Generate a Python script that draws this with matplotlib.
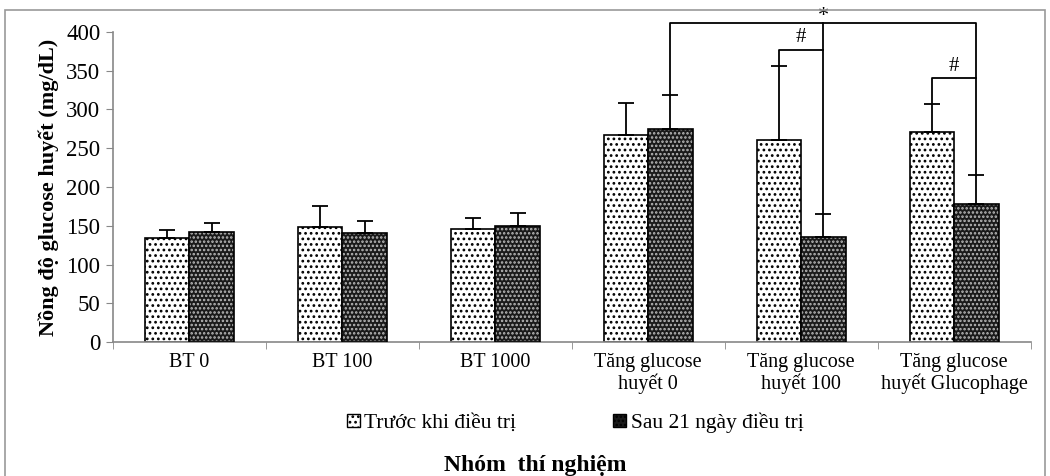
import numpy as np
import matplotlib.pyplot as plt
from matplotlib.patches import Rectangle, Patch

# dữ liệu
groups = ['BT 0', 'BT 100', 'BT 1000', 'Tăng glucose\nhuyết 0',
          'Tăng glucose\nhuyết 100', 'Tăng glucose\nhuyết Glucophage']
before = [134, 148, 146, 267, 261, 271]
before_sd = [10, 28, 14, 41, 95, 36]
after = [142, 141, 150, 275, 136, 178]
after_sd = [12, 15, 16, 44, 29, 38]
yticks = [0, 50, 100, 150, 200, 250, 300, 350, 400]

plt.rcParams['font.family'] = ['Liberation Serif', 'DejaVu Serif']
plt.rcParams['hatch.linewidth'] = 1.2

fig = plt.figure(figsize=(10.5, 4.76), dpi=100)
ax = fig.add_axes([0.1076, 0.2815, 0.874, 0.6513])

x = np.arange(len(groups))
w = 0.29
gray = '#888888'

ax.bar(x - w / 2, before, w, color='white', edgecolor='black', hatch='...',
       linewidth=1.2, zorder=2)
# cột sau: nền đen, chấm trắng, viền đen
ax.bar(x + w / 2, after, w, color='#1a1a1a', edgecolor='#bbbbbb', hatch='....',
       linewidth=0, zorder=2)
ax.bar(x + w / 2, after, w, fill=False, edgecolor='black', linewidth=1.2, zorder=3)

ax.errorbar(x - w / 2, before, yerr=[np.zeros(6), before_sd], fmt='none',
            ecolor='black', elinewidth=1.3, capsize=6, capthick=1.3, zorder=4)
ax.errorbar(x + w / 2, after, yerr=[np.zeros(6), after_sd], fmt='none',
            ecolor='black', elinewidth=1.3, capsize=6, capthick=1.3, zorder=4)

# các đường so sánh
def bracket(x1, y1, x2, y2, top, label, lx):
    ax.plot([x1, x1, x2, x2], [y1, top, top, y2], color='black', lw=1.3,
            clip_on=False, zorder=5)
    ax.text(lx, top + 3, label, ha='center', va='bottom', fontsize=15,
            clip_on=False)

bracket(x[3] + w / 2, after[3] + after_sd[3], x[5] + w / 2, after[5] + after_sd[5],
        411, '', 0)
ax.plot([x[4] + w / 2] * 2, [after[4] + after_sd[4], 411], color='black', lw=1.3,
        clip_on=False, zorder=5)
ax.text(x[4] + w / 2, 408, '*', ha='center', va='bottom', fontsize=16,
        clip_on=False)
bracket(x[4] - w / 2, before[4] + before_sd[4], x[4] + w / 2, 377, 377, '#',
        x[4])
bracket(x[5] - w / 2, before[5] + before_sd[5], x[5] + w / 2, 340, 340, '#',
        x[5])

ax.set_xlim(-0.5, 5.5)
ax.set_ylim(0, 400)
ax.set_yticks(yticks)
ax.set_xticks(x)
ax.set_xticklabels(groups, fontsize=14.5, linespacing=1.1)
ax.tick_params(axis='x', length=0, pad=8)
ax.set_xticks(np.arange(-0.5, 6, 1), minor=True)
ax.tick_params(axis='x', which='minor', length=5, color=gray)
ax.tick_params(axis='y', length=5, color=gray, labelsize=16.5, pad=4)
for s in ['top', 'right']:
    ax.spines[s].set_visible(False)
for s in ['left', 'bottom']:
    ax.spines[s].set_color(gray)
    ax.spines[s].set_linewidth(1.2)

ax.set_ylabel('Nồng độ glucose huyết (mg/dL)', fontsize=16, fontweight='bold',
              labelpad=5)
fig.text(0.51, 0.022, 'Nhóm  thí nghiệm', ha='center', va='center',
         fontsize=17, fontweight='bold')

h1 = Patch(facecolor='white', edgecolor='black', hatch='...')
h2 = Patch(facecolor='#1a1a1a', edgecolor='black', hatch='....')
fig.legend([h1, h2], ['Trước khi điều trị', 'Sau 21 ngày điều trị'],
           loc='center', bbox_to_anchor=(0.548, 0.112), ncol=2, frameon=False,
           fontsize=15.5, handlelength=0.6, handleheight=0.6, handletextpad=0.2,
           columnspacing=4.5)

fig.add_artist(Rectangle((0.005, -0.01), 0.99, 0.99, transform=fig.transFigure,
                         fill=False, edgecolor='#999999', lw=1.2))

fig.savefig('out.png', dpi=100)
